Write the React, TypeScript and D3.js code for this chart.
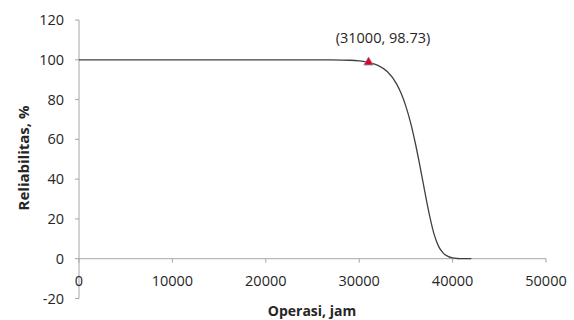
import React from 'react';
import * as d3 from 'd3';

// hours of operation vs reliability (%)
const hours = [0, 10000, 20000, 25000, 27000, 29000, 30000, 31000, 32000, 33000, 34000, 34500, 35000, 35500, 36000, 36500, 37000, 37500, 38000, 38500, 39000, 39500, 40000, 40500, 41000, 42000];
const reliability = [100, 100, 100, 99.99, 99.96, 99.76, 99.44, 98.73, 97.2, 94.1, 87.9, 83.0, 76.6, 68.4, 58.3, 46.7, 34.3, 22.4, 12.6, 6.2, 2.8, 1.2, 0.4, 0.1, 0, 0];

const markX = 31000;
const markY = 98.73;

const xTicks = [0, 10000, 20000, 30000, 40000, 50000];
const yTicks = [-20, 0, 20, 40, 60, 80, 100, 120];

const W = 574;
const H = 320;
const font = '"Open Sans", sans-serif';
const axisColor = '#a6a6a6';
const textColor = '#262626';

export default function App() {
  const x = d3.scaleLinear().domain([0, 50000]).range([79, 546]);
  const y = d3.scaleLinear().domain([-20, 120]).range([298.5, 20]);

  const pts: [number, number][] = hours.map((h, i) => [h, reliability[i]]);
  const line = d3.line<[number, number]>()
    .x(d => x(d[0]))
    .y(d => y(d[1]))
    .curve(d3.curveMonotoneX);

  const mx = x(markX);
  const my = y(markY);
  const tri = d3.symbol().type(d3.symbolTriangle).size(38)();

  return (
    <svg width={W} height={H} style={{ position: 'absolute', left: 0, top: 0, background: '#fff' }}>
      {/* y axis */}
      <line x1={x(0)} x2={x(0)} y1={y(120)} y2={y(-20)} stroke={axisColor} strokeWidth={1} />
      {yTicks.map(t => (
        <g key={t}>
          <line x1={x(0) - 4} x2={x(0)} y1={y(t)} y2={y(t)} stroke={axisColor} />
          <text x={64} y={y(t)} dy="0.35em" textAnchor="end" fontFamily={font} fontSize={14.5} fill={textColor}>{t}</text>
        </g>
      ))}
      {/* x axis at y = 0 */}
      <line x1={x(0)} x2={x(50000)} y1={y(0)} y2={y(0)} stroke={axisColor} />
      {xTicks.map(t => (
        <g key={t}>
          <line x1={x(t)} x2={x(t)} y1={y(0)} y2={y(0) + 4} stroke={axisColor} />
          <text x={x(t)} y={286} textAnchor="middle" fontFamily={font} fontSize={14.5} fill={textColor}>{t}</text>
        </g>
      ))}

      {/* curve */}
      <path d={line(pts) || ''} fill="none" stroke="#404040" strokeWidth={1.3} />

      {/* marker */}
      <path d={tri || ''} transform={`translate(${mx},${my})`} fill="#e8001c" stroke="#7f8fd0" strokeWidth={0.8} />
      <text x={383} y={38} dy="0.35em" textAnchor="middle" fontFamily={font} fontSize={14.5} fill={textColor}>
        ({markX}, {markY})
      </text>

      {/* titles */}
      <text transform={`translate(24,158) rotate(-90)`} textAnchor="middle" dy="0.35em" fontFamily={font} fontSize={15} fontWeight="bold" fill={textColor}>
        Reliabilitas, %
      </text>
      <text x={312} y={316} textAnchor="middle" fontFamily={font} fontSize={14} fontWeight="bold" fill={textColor}>
        Operasi, jam
      </text>
    </svg>
  );
}
